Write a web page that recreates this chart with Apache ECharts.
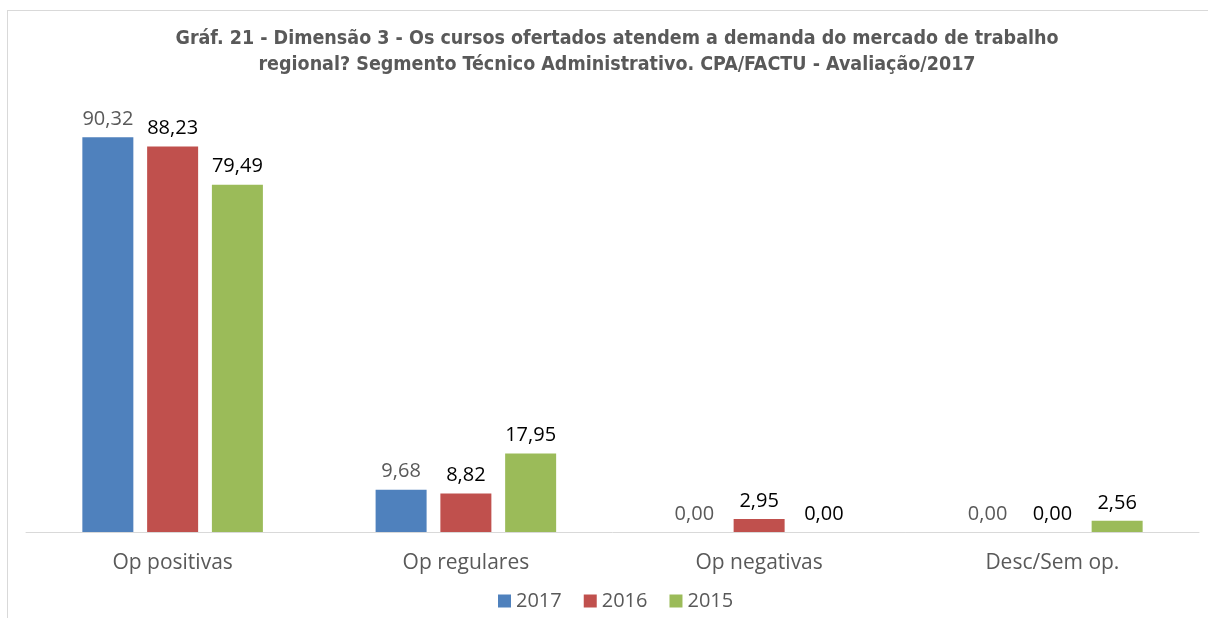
<!DOCTYPE html>
<html>
<head>
<meta charset="utf-8">
<script src="https://cdn.jsdelivr.net/npm/echarts@6/dist/echarts.min.js"></script>
<style>
  html, body { margin: 0; padding: 0; background: #fff; }
  #main { position: absolute; left: 0; top: 0; width: 1208px; height: 618px; }
  #frame { position: absolute; left: 7px; top: 10px; width: 1210px; height: 620px;
           border: 1px solid #d9d9d9; pointer-events: none; }
</style>
</head>
<body>
<div id="main"></div>
<div id="frame"></div>
<script>
var categories = ['Op positivas', 'Op regulares', 'Op negativas', 'Desc/Sem op.']
var years = ['2017', '2016', '2015']
var v2017 = [90.32, 9.68, 0.00, 0.00]
var v2016 = [88.23, 8.82, 2.95, 0.00]
var v2015 = [79.49, 17.95, 0.00, 2.56]

var colors = ['#4f81bd', '#c0504d', '#9bbb59']
var labelColors = ['#595959', '#000', '#000']
var font = '"Open Sans", "Noto Sans", sans-serif'

var fmt = (p) => p.value.toFixed(2).replace('.', ',')

var series = [v2017, v2016, v2015].map((data, i) => ({
    name: years[i],
    type: 'bar',
    data: data,
    barWidth: 51,
    barGap: '27%',
    itemStyle: { color: colors[i] },
    label: {
        show: true,
        position: 'top',
        distance: 8,
        formatter: fmt,
        color: labelColors[i],
        fontFamily: font,
        fontSize: 20
    }
}))

var myChart = echarts.init(document.getElementById('main'))

var option = {
    animation: false,
    backgroundColor: '#fff',
    title: {
        text: 'Gráf. 21 - Dimensão 3 - Os cursos ofertados atendem a demanda do mercado de trabalho\nregional? Segmento Técnico Administrativo. CPA/FACTU - Avaliação/2017',
        left: 612,
        textAlign: 'center',
        top: 21,
        textStyle: {
            fontFamily: '"Liberation Sans Narrow", "DejaVu Sans Condensed", sans-serif',
            fontWeight: 'bold',
            fontSize: 19.5,
            color: '#595959',
            lineHeight: 26
        }
    },
    legend: {
        bottom: 2,
        left: 493,
        itemWidth: 13,
        itemHeight: 13,
        itemGap: 22,
        icon: 'rect',
        textStyle: { fontFamily: font, fontSize: 20, color: '#595959' },
        data: years
    },
    grid: { left: 26, right: 9, top: 95, bottom: 86 },
    xAxis: {
        type: 'category',
        data: categories,
        axisLine: { lineStyle: { color: '#d9d9d9', width: 1 } },
        axisTick: { show: false },
        axisLabel: { fontFamily: font, fontSize: 21, color: '#595959', margin: 21 }
    },
    yAxis: {
        type: 'value',
        min: 0,
        max: 100,
        show: false,
        splitLine: { show: false }
    },
    series: series
}

myChart.setOption(option)
</script>
</body>
</html>
